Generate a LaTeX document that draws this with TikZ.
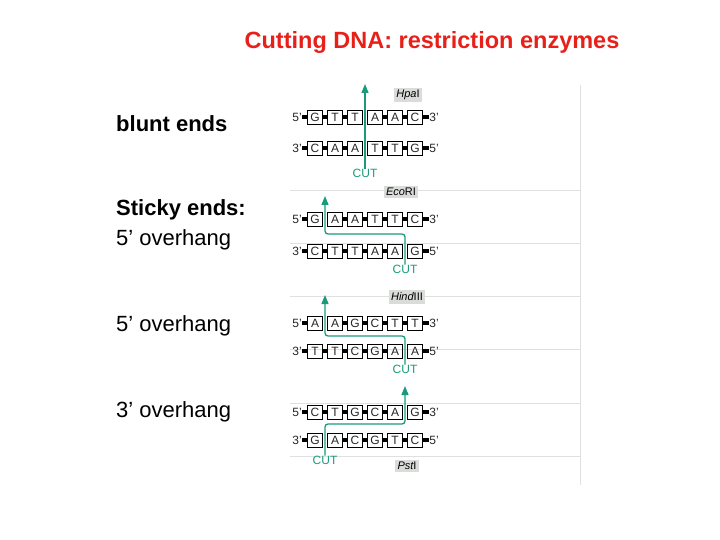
\documentclass[tikz,border=0pt]{standalone}
\usepackage{fontspec}
\setmainfont{Liberation Sans}
\usetikzlibrary{arrows.meta, positioning}
\definecolor{cutgreen}{HTML}{1A9A7A}
\definecolor{titlered}{HTML}{E8201A}
\definecolor{enzgray}{HTML}{D9DCD9}

\begin{document}
\begin{tikzpicture}[
    x=1pt, y=-1pt,
    every node/.style={font=\fontsize{12}{13}\selectfont, inner sep=0pt},
    base/.style={draw, line width=0.6pt, minimum width=15pt, minimum height=14pt, text=black!85},
    endlab/.style={text=black!85},
    link/.style={line width=4pt, shorten <=0.6pt, shorten >=0.6pt},
    sep/.style={draw=black!12, line width=0.6pt},
    enzyme/.style={fill=enzgray, inner sep=2.5pt, font=\itshape\fontsize{11}{12}\selectfont},
    cutlab/.style={text=cutgreen},
    arrow/.style={-{Triangle[length=9pt,width=7pt]}, cutgreen, line width=1.3pt, rounded corners=3pt},
    side/.style={anchor=west, font=\fontsize{22}{24}\selectfont}
]
    \useasboundingbox (0,0) rectangle (720,540);
    % title and side labels
    \node[font=\bfseries\fontsize{23.5}{26}\selectfont, text=titlered] (title) at (432,42) {Cutting DNA: restriction enzymes};
    \node[side, font=\bfseries\fontsize{22}{24}\selectfont] (blunt) at (116,124) {blunt ends};
    \node[side, font=\bfseries\fontsize{22}{24}\selectfont] (sticky) at (116,210) {Sticky ends:};
    \node[side] (ov1) at (116,240) {5’ overhang};
    \node[side] (ov2) at (116,326) {5’ overhang};
    \node[side] (ov3) at (116,412) {3’ overhang};
    % panel rules
    \draw[sep] (580,85) -- (580,485);
    \foreach \y in {190,243,296,349,403,456}
        \draw[sep] (290,\y) -- (580,\y);
    % strands: name/y/left/right/bases/bonds
    \foreach \n/\y/\l/\r/\seq/\bonds in {
        ha/117/5/3/{G,T,T,A,A,C}/{1/2,2/3,4/5,5/6},
        hb/148/3/5/{C,A,A,T,T,G}/{1/2,2/3,4/5,5/6},
        ea/219/5/3/{G,A,A,T,T,C}/{2/3,3/4,4/5,5/6},
        eb/251/3/5/{C,T,T,A,A,G}/{1/2,2/3,3/4,4/5},
        da/323/5/3/{A,A,G,C,T,T}/{2/3,3/4,4/5,5/6},
        db/351/3/5/{T,T,C,G,A,A}/{1/2,2/3,3/4,4/5},
        pa/412/5/3/{C,T,G,C,A,G}/{1/2,2/3,3/4,4/5},
        pb/440/3/5/{G,A,C,G,T,C}/{2/3,3/4,4/5,5/6}} {
        \node[endlab] (\n L) at (297,\y) {\l’};
        \foreach \b [count=\i] in \seq
            \node[base] (\n\i) at ({295+20*\i},\y) {\b};
        \node[endlab] (\n R) at (434,\y) {\r’};
        \draw[link] (\n L) -- (\n1);
        \draw[link] (\n6) -- (\n R);
        \foreach \i/\j in \bonds
            \draw[link] (\n\i) -- (\n\j);
    }
    % enzymes
    \node[enzyme] (hpa) at (408,95) {Hpa\upshape I};
    \node[enzyme] (eco) at (401,192) {Eco\upshape RI};
    \node[enzyme] (hin) at (407,297) {Hind\upshape III};
    \node[enzyme] (pst) at (407,466) {Pst\upshape I};
    % cuts
    \node[cutlab] (hcut) at (365,173) {CUT};
    \node[cutlab] (ecut) at (405,269) {CUT};
    \node[cutlab] (dcut) at (405,369) {CUT};
    \node[cutlab] (pcut) at (325,460) {CUT};
    \coordinate (htip) at (365,84);
    \coordinate (etip) at (325,196);
    \coordinate (dtip) at (325,295);
    \coordinate (ptip) at (405,386);
    \draw[arrow] (hcut.north) -- (htip);
    \draw[arrow] (ecut.north) |- (365,234) -| (etip);
    \draw[arrow] (dcut.north) |- (365,336) -| (dtip);
    \draw[arrow] (pcut.north) |- (365,424) -| (ptip);
\end{tikzpicture}
\end{document}
